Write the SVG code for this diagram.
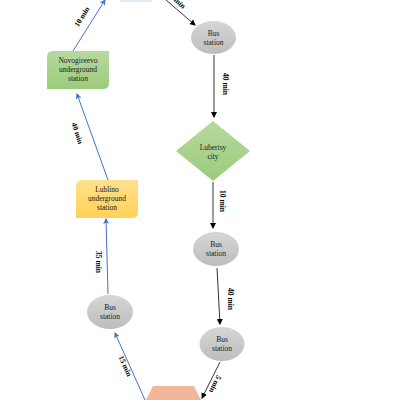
<svg xmlns="http://www.w3.org/2000/svg" width="400" height="400" viewBox="0 0 400 400">
<defs>
<linearGradient id="gGray" x1="0" y1="0" x2="0" y2="1"><stop offset="0" stop-color="#d6d6d6"/><stop offset="1" stop-color="#bdbdbd"/></linearGradient>
<linearGradient id="gGreen" x1="0" y1="0" x2="0" y2="1"><stop offset="0" stop-color="#b6d99e"/><stop offset="1" stop-color="#9ccb7c"/></linearGradient>
<linearGradient id="gYellow" x1="0" y1="0" x2="0" y2="1"><stop offset="0" stop-color="#ffe08e"/><stop offset="1" stop-color="#ffd157"/></linearGradient>
<marker id="aBlack" markerWidth="6" markerHeight="6" refX="5" refY="3" orient="auto" markerUnits="userSpaceOnUse"><path d="M0,0 L6,3 L0,6 Z" fill="#000"/></marker>
<marker id="aBlue" markerWidth="6" markerHeight="6" refX="5" refY="3" orient="auto" markerUnits="userSpaceOnUse"><path d="M0,0 L6,3 L0,6 L1.5,3 Z" fill="#4472c4"/></marker>
</defs>
<style>
.node{font-family:"Liberation Serif",serif;font-size:7.5px;fill:#1a1a1a;text-anchor:middle}
.lbl{font-family:"Liberation Serif",serif;font-size:7.5px;font-weight:bold;fill:#000;text-anchor:middle}
.blk{stroke:#000;stroke-width:0.8;fill:none;marker-end:url(#aBlack)}
.blu{stroke:#4472c4;stroke-width:1;fill:none;marker-end:url(#aBlue)}
.bus{fill:url(#gGray)}
</style>
<rect width="400" height="400" fill="#fff"/>
<g id="connectors">
<line class="blk" x1="166" y1="0" x2="195" y2="25"/>
<line class="blk" x1="214" y1="55" x2="214" y2="117"/>
<line class="blk" x1="213" y1="182" x2="213" y2="228"/>
<line class="blk" x1="217" y1="268" x2="220" y2="324"/>
<line class="blk" x1="220" y1="362" x2="202" y2="398"/>
<line class="blu" x1="145" y1="400" x2="115" y2="333"/>
<line class="blu" x1="108" y1="294" x2="106" y2="219"/>
<line class="blu" x1="108" y1="180" x2="77" y2="94"/>
<line class="blu" x1="73" y1="51" x2="105" y2="0"/>
<text class="lbl" transform="translate(176,3) rotate(42)">5 min</text>
<text class="lbl" transform="translate(223,84) rotate(90)">40 min</text>
<text class="lbl" transform="translate(220,201) rotate(90)">10 min</text>
<text class="lbl" transform="translate(228,299) rotate(90)">40 min</text>
<text class="lbl" transform="translate(213,383) rotate(116)">5 min</text>
<text class="lbl" transform="translate(123,367) rotate(66)">15 min</text>
<text class="lbl" transform="translate(96,262) rotate(90)">35 min</text>
<text class="lbl" transform="translate(75,134) rotate(72)">40 min</text>
<text class="lbl" transform="translate(84,18) rotate(-58)">10 min</text>
</g>
<g id="top-node"><rect x="120" y="-20" width="32" height="22" fill="#deebf7"/></g>
<g id="bus1"><ellipse class="bus" cx="213.5" cy="37.5" rx="22.5" ry="16.5"/><text class="node" x="213.5" y="35.5">Bus</text><text class="node" x="213.5" y="44.5">station</text></g>
<g id="lubertsy"><polygon points="213,121 250,151 213,181 176,151" fill="url(#gGreen)"/><text class="node" x="213" y="150">Lubertsy</text><text class="node" x="213" y="159">city</text></g>
<g id="bus2"><ellipse class="bus" cx="216" cy="249" rx="23" ry="17"/><text class="node" x="216" y="247">Bus</text><text class="node" x="216" y="256">station</text></g>
<g id="bus3"><ellipse class="bus" cx="222" cy="344" rx="22.5" ry="17"/><text class="node" x="222" y="342">Bus</text><text class="node" x="222" y="351">station</text></g>
<g id="hexagon"><polygon points="153,386 194,386 206,410 194,434 153,434 141,410" fill="#f4b69a"/></g>
<g id="bus4"><ellipse class="bus" cx="110" cy="312" rx="23" ry="17"/><text class="node" x="110" y="310">Bus</text><text class="node" x="110" y="319">station</text></g>
<g id="lublino"><path d="M82,180 H138 V212 Q138,218 132,218 H76 V186 Q76,180 82,180 Z" fill="url(#gYellow)"/><text class="node" x="107" y="192">Lublino</text><text class="node" x="107" y="201">underground</text><text class="node" x="107" y="210">station</text></g>
<g id="novogireevo"><path d="M53,51 H109 V83 Q109,89 103,89 H47 V57 Q47,51 53,51 Z" fill="url(#gGreen)"/><text class="node" x="78" y="63">Novogireevo</text><text class="node" x="78" y="72">underground</text><text class="node" x="78" y="81">station</text></g>
</svg>
